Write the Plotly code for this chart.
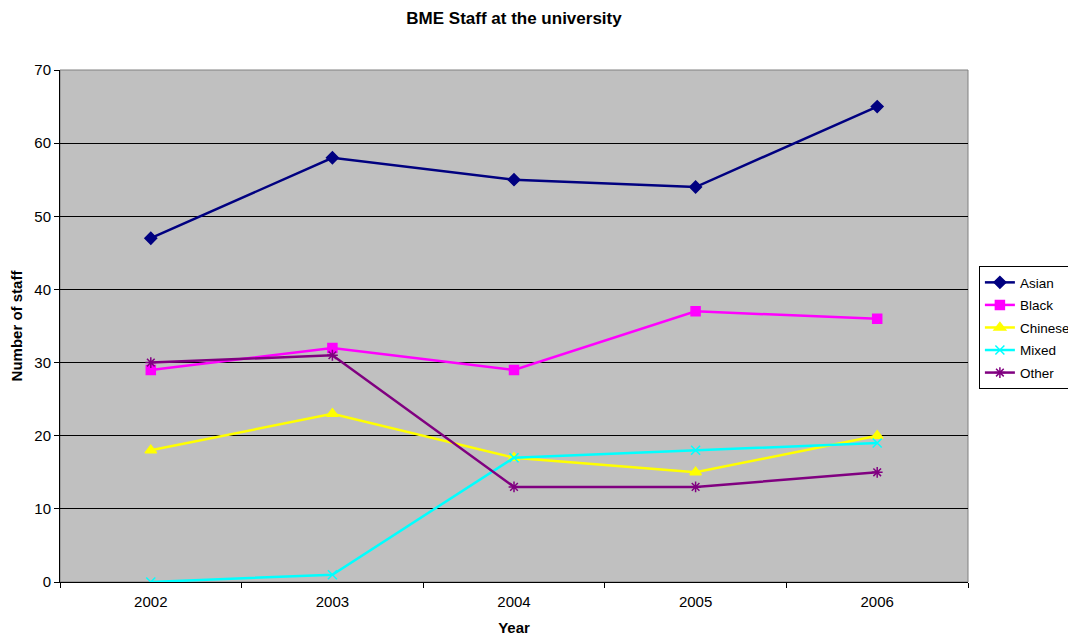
import plotly.graph_objects as go

# Data
years = ["2002", "2003", "2004", "2005", "2006"]
asian = [47, 58, 55, 54, 65]
black = [29, 32, 29, 37, 36]
chinese = [18, 23, 17, 15, 20]
mixed = [0, 1, 17, 18, 19]
other = [30, 31, 13, 13, 15]

# Colour / marker per series
series = [
    ("Asian", asian, "#000080", "diamond", 9),
    ("Black", black, "#FF00FF", "square", 9),
    ("Chinese", chinese, "#FFFF00", "triangle-up", 10),
    ("Mixed", mixed, "#00FFFF", "x-thin", 9),
    ("Other", other, "#800080", "asterisk", 9),
]

FONT = "Liberation Sans, Arial, sans-serif"

fig = go.Figure()
for name, vals, color, symbol, size in series:
    fig.add_trace(go.Scatter(
        x=years,
        y=vals,
        name=name,
        legendgroup=name,
        mode="lines+markers",
        line=dict(color=color, width=2.5),
        marker=dict(symbol=symbol, size=size, color=color,
                    line=dict(color=color, width=1.5)),
    ))

# plot area outline (grey on top/right like Excel)
fig.add_shape(type="rect", xref="paper", yref="paper", x0=0, y0=0, x1=1, y1=1,
              line=dict(color="#808080", width=1), layer="below")

# page body has an 8px margin, so the figure is offset by 8px
fig.update_layout(
    width=1076,
    height=628,
    autosize=False,
    margin=dict(l=52, r=116, t=62, b=54, autoexpand=False),
    paper_bgcolor="white",
    plot_bgcolor="#C0C0C0",
    font=dict(family=FONT, size=15, color="black"),
    title=dict(text="<b>BME Staff at the university</b>", x=0.5, xref="paper",
               y=0.984, yanchor="middle", xanchor="center", automargin=False,
               font=dict(size=17, family=FONT, color="black")),
    legend=dict(x=1.012, y=0.617, xanchor="left", yanchor="top",
                bgcolor="white", bordercolor="black", borderwidth=1,
                font=dict(size=13.5, family=FONT), tracegroupgap=2,
                traceorder="grouped", itemwidth=30),
    xaxis=dict(
        type="category",
        range=[-0.5, 4.5],
        automargin=False,
        showgrid=False,
        showline=True, linecolor="black", linewidth=1,
        ticks="outside", ticklen=5, tickcolor="black",
        tickson="boundaries",
        ticklabelstandoff=6,
        tickfont=dict(size=15),
        title=dict(text="<b>Year</b>", font=dict(size=15), standoff=13),
        zeroline=False,
    ),
    yaxis=dict(
        range=[0, 70],
        dtick=10,
        automargin=False,
        showgrid=True, gridcolor="black", gridwidth=1,
        showline=True, linecolor="black", linewidth=1,
        ticks="outside", ticklen=5, tickcolor="black",
        tickfont=dict(size=15),
        title=dict(text="<b>Number of staff</b>", font=dict(size=15), standoff=11),
        zeroline=False,
    ),
)

fig.write_html("out.html")
